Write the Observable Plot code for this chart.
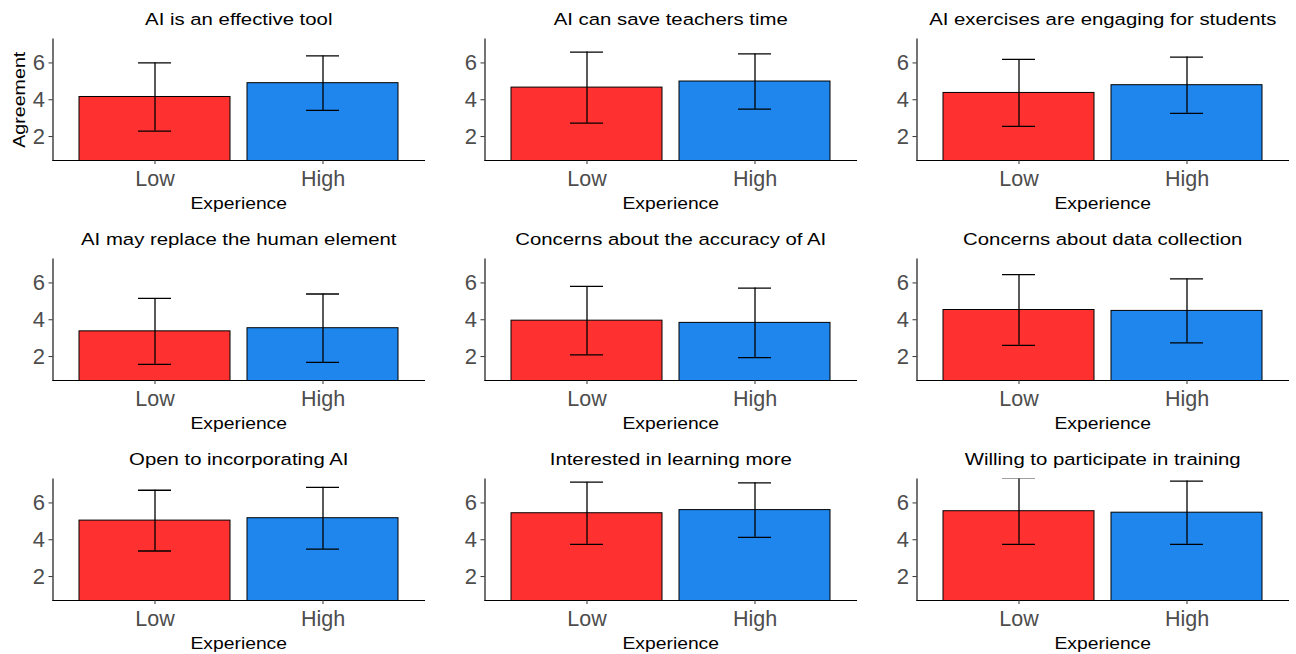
<!DOCTYPE html>
<html>
<head>
<meta charset="utf-8">
<script src="https://cdn.jsdelivr.net/npm/d3@7"></script>
<script src="https://cdn.jsdelivr.net/npm/@observablehq/plot@0.6"></script>
<style>
  html, body { margin: 0; padding: 0; background: #fff; overflow: hidden; }
  #chart { position: relative; width: 1296px; height: 654px; font-family: "Liberation Sans", Arial, sans-serif; }
  .panel { position: absolute; }
</style>
</head>
<body>
<div id="chart"></div>
<script>
const titles = [
  "AI is an effective tool",
  "AI can save teachers time",
  "AI exercises are engaging for students",
  "AI may replace the human element",
  "Concerns about the accuracy of AI",
  "Concerns about data collection",
  "Open to incorporating AI",
  "Interested in learning more",
  "Willing to participate in training"
];
const groups = ["Low", "High"];
const lowMean  = [4.15, 4.66, 4.37, 3.37, 3.95, 4.53, 5.04, 5.44, 5.55];
const lowSD    = [1.85, 1.93, 1.82, 1.79, 1.86, 1.92, 1.65, 1.69, 1.80];
const highMean = [4.90, 4.99, 4.79, 3.54, 3.83, 4.48, 5.17, 5.61, 5.47];
const highSD   = [1.48, 1.50, 1.53, 1.86, 1.89, 1.74, 1.68, 1.48, 1.72];
const yTicks = [2, 4, 6];
const yDomain = [0.7, 7.3];
const colors = ["#FF3030", "#1E86EC"];
const xLabel = "Experience";
const yLabel = "Agreement";

const chart = document.getElementById("chart");

titles.forEach((title, i) => {
  const col = i % 3, row = Math.floor(i / 3);
  const data = [
    {group: groups[0], mean: lowMean[i], sd: lowSD[i]},
    {group: groups[1], mean: highMean[i], sd: highSD[i]}
  ];
  const marks = [
    Plot.barY(data, {x: "group", y: "mean", fill: "group", stroke: "black", strokeWidth: 1, clip: true}),
    Plot.ruleX(data, {x: "group", y1: d => d.mean - d.sd, y2: d => d.mean + d.sd, stroke: "black", strokeWidth: 1.3, clip: true}),
    Plot.tickY(data, {x: "group", y: d => d.mean - d.sd, stroke: "black", strokeWidth: 1.3, insetLeft: 59, insetRight: 59, clip: true}),
    Plot.tickY(data, {x: "group", y: d => d.mean + d.sd, stroke: "black", strokeWidth: 1.3, insetLeft: 59, insetRight: 59, clip: true}),
    Plot.frame({anchor: "left", stroke: "black", strokeWidth: 1.1}),
    Plot.frame({anchor: "bottom", stroke: "black", strokeWidth: 1.1}),
    Plot.axisY(yTicks, {tickSize: 4, tickPadding: 4, fontSize: 22, fill: "#4d4d4d", stroke: "#333", label: null}),
    Plot.axisX({tickSize: 4, tickPadding: 6, fontSize: 21.5, fill: "#4d4d4d", stroke: "#333", label: null}),
    Plot.text([title], {frameAnchor: "top", lineAnchor: "middle", textAnchor: "middle", dy: -19.5, fontSize: 17.4, fill: "black"}),
    Plot.text([xLabel], {frameAnchor: "bottom", lineAnchor: "middle", textAnchor: "middle", dy: 43, fontSize: 16.5, fill: "black"})
  ];
  if (i === 0) {
    marks.push(Plot.text([yLabel], {frameAnchor: "left", lineAnchor: "middle", textAnchor: "middle", rotate: -90, dx: -33, fontSize: 16.8, fill: "black"}));
  }
  const svg = Plot.plot({
    width: 432,
    height: 214,
    marginTop: 38.5,
    marginBottom: 54,
    marginLeft: 52.5,
    marginRight: 8,
    style: {fontFamily: "'Liberation Sans', Arial, sans-serif", background: "white", color: "black"},
    x: {domain: groups, paddingInner: 0.1, paddingOuter: 0.15, axis: null},
    y: {domain: yDomain, axis: null},
    color: {domain: groups, range: colors},
    marks
  });
  // the reference's title lettering is noticeably wider than Arial: stretch along the text direction
  svg.querySelectorAll('g[aria-label="text"] text').forEach(t => {
    const tr = t.getAttribute("transform");
    if (tr) t.setAttribute("transform", tr + " scale(1.17,1)");
  });
  const div = document.createElement("div");
  div.className = "panel";
  div.style.left = (col * 432) + "px";
  div.style.top = (row * 220) + "px";
  div.appendChild(svg);
  chart.appendChild(div);
});
</script>
</body>
</html>
